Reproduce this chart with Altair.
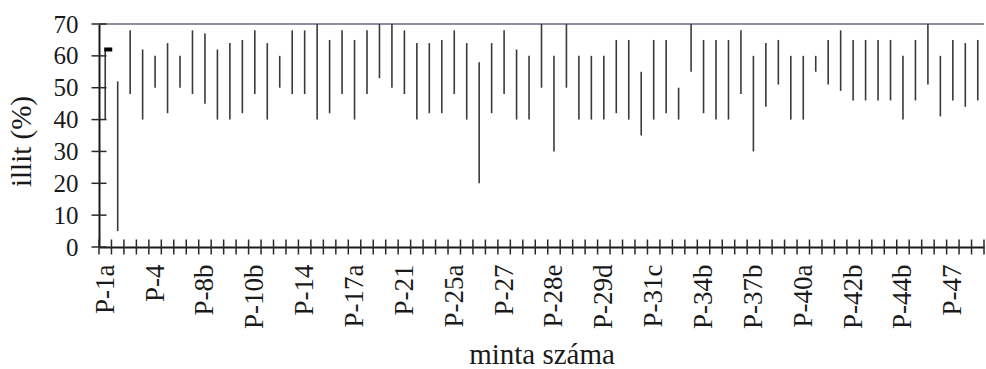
import altair as alt
import pandas as pd

# Labelled samples (every fourth position along the x axis)
tick_labels = ["P-1a", "P-4", "P-8b", "P-10b", "P-14", "P-17a", "P-21", "P-25a",
               "P-27", "P-28e", "P-29d", "P-31c", "P-34b", "P-37b", "P-40a",
               "P-42b", "P-44b", "P-47"]

# Illite content range per sample (%)
illit_min = [40, 5, 48, 40, 50, 42, 50, 48, 45, 40, 40, 42, 48, 40, 50, 48, 48,
             40, 42, 48, 40, 48, 53, 50, 48, 40, 42, 42, 48, 40, 20, 42, 48, 40,
             40, 50, 30, 50, 40, 40, 40, 42, 40, 35, 40, 42, 40, 55, 42, 40, 40,
             48, 30, 44, 51, 40, 40, 55, 51, 49, 46, 46, 46, 46, 40, 46, 51, 41,
             46, 44, 46]
illit_max = [62, 52, 68, 62, 60, 64, 60, 68, 67, 62, 64, 65, 68, 64, 60, 68, 68,
             70, 65, 68, 65, 68, 70, 70, 68, 64, 64, 65, 68, 64, 58, 64, 68, 62,
             60, 70, 60, 70, 60, 60, 60, 65, 65, 55, 65, 65, 50, 70, 65, 65, 65,
             68, 60, 64, 65, 60, 60, 60, 65, 68, 65, 65, 65, 65, 60, 65, 70, 60,
             65, 64, 65]

# Closing value marked on the first sample
close_value = 62

y_ticks = [0, 10, 20, 30, 40, 50, 60, 70]
y_max = 70

n = len(illit_min)
ranges = pd.DataFrame({"pos": [i + 0.5 for i in range(n)],
                       "lo": illit_min, "hi": illit_max})
edges = pd.DataFrame({"edge": list(range(n + 1))})
yticks = pd.DataFrame({"v": y_ticks})
marker = pd.DataFrame({"pos": [0.5], "v": [close_value]})

FONT = "Liberation Serif"
INK = "#1a1a1a"
W, H = 885, 223
HALF_TICK = 7.5

x_scale = alt.Scale(domain=[0, n], nice=False, zero=False)
y_scale = alt.Scale(domain=[0, y_max], nice=False, zero=True)

label_expr = "[" + ",".join(f"'{t}'" for t in tick_labels) + "][floor(datum.value / 4)]"

x_axis = alt.Axis(
    values=[0.5 + 4 * k for k in range(len(tick_labels))],
    labelExpr=label_expr, labelAngle=-90, labelAlign="right",
    labelBaseline="middle", labelPadding=17, labelOverlap=False,
    labelFlush=False, labelFont=FONT, labelFontSize=27, labelColor=INK,
    ticks=False, tickSize=0, grid=False,
    domainColor=INK, domainWidth=2,
    title="minta száma", titleFont=FONT, titleFontSize=29,
    titleFontWeight="normal", titleColor=INK,
    titleY=116, titleBaseline="alphabetic",
)
y_axis = alt.Axis(
    values=y_ticks, labelPadding=21, labelFont=FONT, labelFontSize=25,
    labelColor=INK, labelFlush=False, labelOverlap=False,
    ticks=False, tickSize=0, grid=False,
    domainColor=INK, domainWidth=2,
    title="illit (%)", titleFont=FONT, titleFontSize=29,
    titleFontWeight="normal", titleColor=INK,
    titleAngle=-90, titleX=-78, titleY=117, titleAlign="center",
    titleBaseline="middle",
)


def X(field):
    return alt.X(field, scale=x_scale, axis=x_axis)


def Y(field):
    return alt.Y(field, scale=y_scale, axis=y_axis)


# Upper frame line at 70 %
top_line = alt.Chart(ranges).mark_rule(color="#8c8e9e", strokeWidth=2).encode(
    y=alt.Y(datum=y_max, scale=y_scale, axis=y_axis)
)

# Min–max range of each sample
bars = alt.Chart(ranges).mark_rule(color="#3a3a3a", strokeWidth=1.6).encode(
    x=X("pos:Q"), y=Y("lo:Q"), y2="hi:Q"
)

# Tick marks crossing the x axis at the sample boundaries
x_ticks = alt.Chart(edges).mark_rule(color="#2a2a2a", strokeWidth=1.5).encode(
    x=X("edge:Q"),
    y=alt.value(H - HALF_TICK), y2=alt.value(H + HALF_TICK),
)

# Tick marks crossing the y axis
y_tick_marks = alt.Chart(yticks).mark_rule(color="#2a2a2a", strokeWidth=1.5).encode(
    y=Y("v:Q"),
    x=alt.value(-HALF_TICK), x2=alt.value(HALF_TICK),
)

close_mark = alt.Chart(marker).mark_tick(
    orient="horizontal", size=8, thickness=4, color="#000000", opacity=1, xOffset=3
).encode(x=X("pos:Q"), y=Y("v:Q"))

chart = alt.layer(top_line, bars, x_ticks, y_tick_marks, close_mark).properties(
    width=W, height=H,
    autosize=alt.AutoSizeParams(type="none"),
    padding={"left": 99, "top": 24, "right": 2, "bottom": 122},
    background="white",
).configure_view(stroke=None)

chart.save("out.html", embed_options={"renderer": "svg", "actions": False})
